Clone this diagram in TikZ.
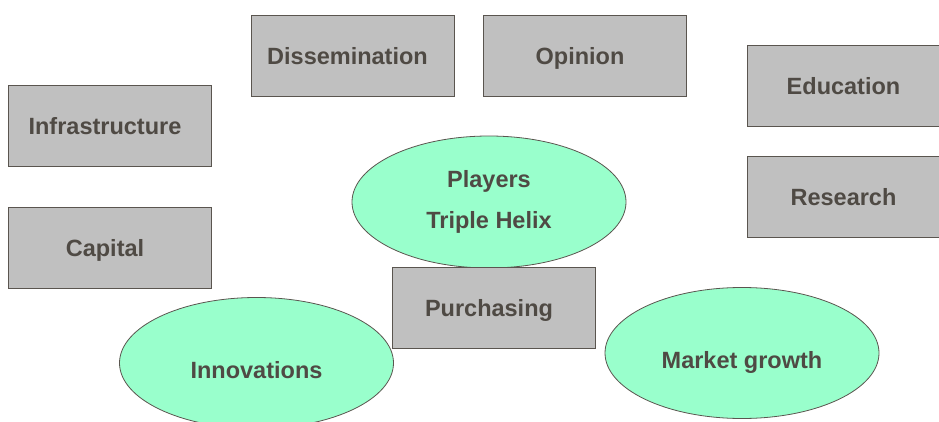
\documentclass[tikz,border=0pt]{standalone}
\usepackage{fontspec}
\setmainfont{Liberation Sans}
\usetikzlibrary{shapes.geometric}
\definecolor{boxgrey}{HTML}{C0C0C0}
\definecolor{edgegrey}{HTML}{5A554F}
\definecolor{labelgrey}{HTML}{4F4A44}
\definecolor{mintgreen}{HTML}{99FFCC}

\tikzset{
  oneline/.style = {text height = 18pt, text depth = 0pt},
  factorbox/.style = {draw = edgegrey, fill = boxgrey, rectangle, line width = 0.8pt, minimum width = 203pt, minimum height = 81pt, inner sep = 0pt, text = labelgrey, font = \fontsize{23.5}{28}\selectfont\bfseries, oneline, execute at begin node = {\hspace*{-10pt}}},
  actorellipse/.style = {draw = edgegrey, fill = mintgreen, ellipse, line width = 0.8pt, minimum width = 274pt, minimum height = 131pt, inner sep = 0pt, text = labelgrey, font = \fontsize{23.5}{28}\selectfont\bfseries, align = center}
}

\begin{document}
\begin{tikzpicture}[x=1pt, y=-1pt]
      \useasboundingbox (0,0) rectangle (939,422);
      \clip (0,0) rectangle (939,422);
      % boxes round the actors
      \node[factorbox] at (352.5, 55.5) (dissem) {Dissemination};
      \node[factorbox] at (585, 55.5) (opinion) {Opinion};
      \node[factorbox] at (110, 126) (infra) {Infrastructure};
      \node[factorbox] at (110, 247.5) (capital) {Capital};
      \node[factorbox] at (848.5, 85.5) (edu) {Education};
      \node[factorbox] at (848.5, 196.5) (research) {Research};

      % the actors, then purchasing on top
      \node[actorellipse, minimum height = 132pt] at (489, 202) (players) {\raisebox{3pt}{Players}\\[10.6pt]Triple Helix};
      \node[factorbox] at (494, 307.5) (purch) {Purchasing};
      \node[actorellipse, oneline] at (256.5, 363) (innov) {\raisebox{-6.3pt}{Innovations}};
      \node[actorellipse, oneline] at (742, 353) (market) {\raisebox{-6pt}{Market growth}};
    \end{tikzpicture}
\end{document}
